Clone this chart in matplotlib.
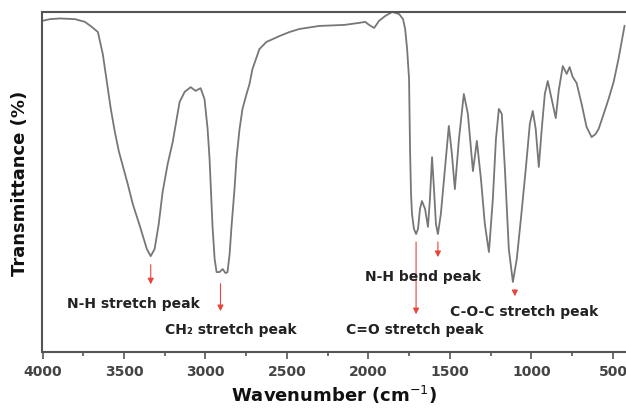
import numpy as np
import matplotlib
matplotlib.use("Agg")
import matplotlib.pyplot as plt

# FT-IR spectrum, values
wavenumber = [4000, 3954, 3893, 3801, 3740, 3697, 3660, 3630, 3605, 3581,
              3556, 3532, 3507, 3477, 3446, 3403, 3360, 3336, 3312, 3287,
              3263, 3232, 3201, 3177, 3159, 3128, 3091, 3061, 3030, 3006,
              2987, 2975, 2957, 2944, 2932, 2914, 2895, 2877, 2865, 2852,
              2840, 2822, 2810, 2791, 2773, 2748, 2730, 2712, 2669, 2626,
              2547, 2485, 2424, 2302, 2149, 2057, 2020, 1996, 1965, 1935,
              1898, 1855, 1812, 1788, 1775, 1763, 1751, 1745, 1739, 1733,
              1721, 1708, 1696, 1684, 1672, 1653, 1635, 1623, 1610, 1598,
              1586, 1574, 1556, 1531, 1507, 1488, 1470, 1445, 1415, 1390,
              1359, 1335, 1310, 1286, 1261, 1237, 1218, 1200, 1182, 1163,
              1139, 1114, 1090, 1065, 1035, 1010, 992, 974, 955, 937,
              918, 900, 876, 851, 833, 808, 784, 766, 747, 723,
              692, 662, 631, 607, 588, 557, 527, 496, 466, 429]
transmittance = [97.4, 97.9, 98.1, 97.9, 97.1, 95.6, 94.1, 87.6, 79.4, 71.5,
                 64.7, 59.1, 54.7, 49.4, 43.5, 37.1, 30.3, 28.2, 30.3, 37.6,
                 47.1, 55.3, 61.8, 68.5, 73.5, 76.5, 77.9, 76.8, 77.6, 74.4,
                 65.6, 56.8, 37.1, 27.4, 23.5, 23.5, 24.4, 23.2, 23.5, 28.8,
                 37.1, 47.9, 56.8, 65.6, 71.5, 75.9, 78.8, 83.2, 89.1, 91.2,
                 92.9, 94.1, 95.0, 95.9, 96.2, 96.8, 97.1, 96.2, 95.3, 97.4,
                 98.8, 100.0, 99.4, 97.9, 95.0, 89.1, 80.3, 59.7, 46.5, 40.6,
                 36.2, 34.7, 36.2, 42.1, 44.4, 42.1, 36.8, 45.0, 57.3, 47.9,
                 37.6, 34.7, 40.6, 53.8, 66.5, 58.2, 47.9, 62.6, 75.9, 70.0,
                 53.2, 62.1, 50.9, 37.6, 29.4, 45.0, 62.6, 71.5, 70.0, 53.8,
                 30.3, 20.6, 27.4, 39.1, 53.8, 67.1, 70.9, 65.6, 54.4, 65.6,
                 75.9, 79.7, 74.4, 68.8, 76.8, 84.1, 81.8, 83.8, 80.9, 79.1,
                 72.9, 66.2, 63.2, 64.1, 65.6, 70.0, 74.4, 79.4, 86.2, 95.9]

peak_labels = ["N-H stretch peak", "CH\u2082 stretch peak", "C=O stretch peak",
               "N-H bend peak", "C-O-C stretch peak"]
peak_wn = [3336, 2908, 1708, 1574, 1102]

xticks = [4000, 3500, 3000, 2500, 2000, 1500, 1000, 500]

fig = plt.figure(figsize=(6.26, 4.10), dpi=100)
ax = fig.add_axes([42.5 / 626, 57 / 410, (626 - 42.5) / 626, 340 / 410])

ax.plot(wavenumber, transmittance, color="#777777", lw=1.3)
ax.set_xlim(4000, 420)
ax.set_ylim(0, 100)

# arrows: (start T, end T) and label position (x, y)
arrow_T = [(26.5, 19.1), (20.9, 11.2), (33.2, 10.3), (33.2, 27.1), (19.1, 15.6)]
label_pos = [(3440, 14.4), (2846, 6.8), (1714, 6.8), (1665, 22.4), (1047, 12.1)]
for lab, wn, (t0, t1), (lx, ly) in zip(peak_labels, peak_wn, arrow_T, label_pos):
    ax.annotate("", xy=(wn, t1), xytext=(wn, t0),
                arrowprops=dict(arrowstyle="-|>,head_length=0.35,head_width=0.18",
                                color="#e8443a", lw=0.8))
    ax.text(lx, ly, lab, ha="center", va="center", fontsize=10,
            fontweight="bold", color="#222222")

ax.set_xticks(xticks)
ax.set_xticks(np.arange(3750, 400, -500), minor=True)
ax.set_yticks([])
ax.tick_params(axis="x", which="major", length=5, width=1.2, color="#555555",
               labelsize=10, labelcolor="#444444", pad=4)
ax.tick_params(axis="x", which="minor", length=3, width=1.2, color="#555555")
for t in ax.get_xticklabels():
    t.set_fontweight("bold")

for side in ["left", "top", "bottom"]:
    ax.spines[side].set_color("#555555")
    ax.spines[side].set_linewidth(1.5)
ax.spines["right"].set_visible(False)

ax.set_xlabel("Wavenumber (cm$^{-1}$)", fontsize=13, fontweight="bold",
              color="#111111", labelpad=3)
ax.set_ylabel("Transmittance (%)", fontsize=13, fontweight="bold",
              color="#111111", labelpad=10)

fig.savefig("out.png", dpi=100)
